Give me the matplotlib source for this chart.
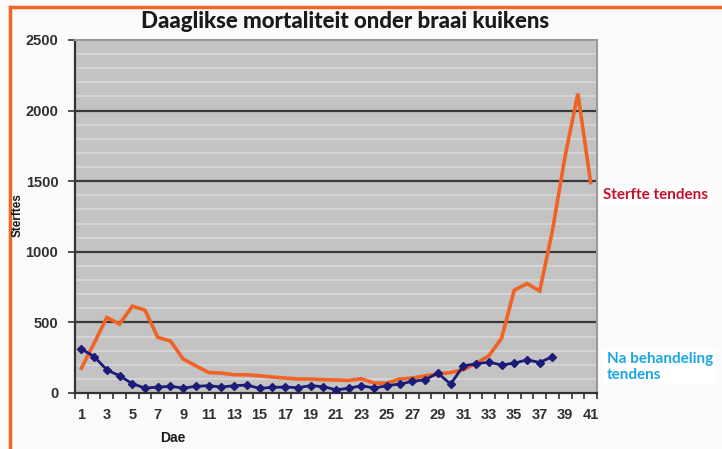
import matplotlib
matplotlib.use("Agg")
import matplotlib.pyplot as plt
from matplotlib.lines import Line2D
import numpy as np

days = list(range(1, 42))
sterfte = [176, 352, 535, 488, 615, 587, 394, 368, 240, 192,
           145, 141, 129, 129, 122, 113, 106, 99, 99, 94,
           92, 89, 101, 70, 70, 99, 106, 122, 134, 145,
           164, 211, 263, 387, 728, 775, 723, 1150, 1680, 2120,
           1490]
behandeling_days = list(range(1, 39))
behandeling = [312, 258, 164, 122, 66, 35, 42, 47, 35, 47,
               52, 42, 52, 56, 33, 40, 42, 38, 52, 45,
               23, 33, 52, 35, 52, 63, 82, 94, 141, 63,
               192, 207, 218, 199, 211, 235, 216, 258]
x_ticklabels = [str(d) for d in range(1, 42, 2)]
y_ticks = [0, 500, 1000, 1500, 2000, 2500]

title = "Daaglikse mortaliteit onder braai kuikens"
xlabel = "Dae"
ylabel = "Sterftes"
label_sterfte = "Sterfte tendens"
label_behandeling = "Na behandeling\ntendens"

fig = plt.figure(figsize=(7.22, 4.49), dpi=100, facecolor="#fbfbfb")
ax = fig.add_axes([75/722, 1-393/449, (597-75)/722, (393-40)/449])
ax.set_facecolor("#c3c3c3")

# gridlines
for v in range(100, 2500, 100):
    if v % 500:
        ax.axhline(v, color="#d8d8d8", lw=1.2, zorder=1)
for v in y_ticks[1:-1]:
    ax.axhline(v, color="#3a3a3a", lw=1.6, zorder=1.5)

ax.plot(days, sterfte, color="#f06325", lw=2.6, zorder=3, solid_joinstyle="miter")
ax.plot(behandeling_days, behandeling, color="#1c1c78", lw=2.0, marker="D",
        markersize=4.5, zorder=4)

ax.set_xlim(0.5, 41.5)
ax.set_ylim(0, 2500)
ax.set_yticks(y_ticks)
ax.set_yticklabels([str(v) for v in y_ticks])
ax.set_xticks(range(1, 42, 2))
ax.set_xticklabels(x_ticklabels)
ax.set_xticks(np.arange(0.5, 42, 1), minor=True)
ax.tick_params(axis="x", which="major", length=0, pad=11)
ax.tick_params(axis="x", which="minor", length=4, width=1.2, color="#333333", direction="out")
ax.tick_params(axis="y", length=5, width=1.2, color="#333333", pad=7)
for lab in ax.get_xticklabels() + ax.get_yticklabels():
    lab.set_fontfamily("Liberation Sans")
    lab.set_fontweight("bold")
    lab.set_fontsize(10.5)
    lab.set_color("#303030")

for side in ["left", "bottom"]:
    ax.spines[side].set_color("#333333")
    ax.spines[side].set_linewidth(1.6)
for side in ["right", "top"]:
    ax.spines[side].set_color("#9a9a9a")
    ax.spines[side].set_linewidth(1.5)

fig.text(345/722, 1-22/449, title, ha="center", va="center",
         fontsize=16, fontweight="black", family="Lato", color="#1a1a1a")
fig.text(18/722, 1-215/449, ylabel, ha="center", va="center", rotation=90,
         fontsize=8.5, fontweight="bold", family="Liberation Sans", color="#1a1a1a")
fig.text(173/722, 1-438/449, xlabel, ha="center", va="center",
         fontsize=10, fontweight="bold", family="Liberation Sans", color="#1a1a1a")

fig.text(603/722, 1-195/449, label_sterfte, ha="left", va="center",
         fontsize=11, fontweight="bold", family="Lato", color="#c8102e",
         bbox=dict(facecolor="white", edgecolor="none", pad=2))
fig.text(607/722, 1-367/449, label_behandeling, ha="left", va="center",
         fontsize=11, fontweight="bold", family="Lato", color="#1aa7e3",
         linespacing=1.25,
         bbox=dict(facecolor="white", edgecolor="none", pad=2))

# orange frame (top and left)
fig.add_artist(Line2D([10/722, 1.0], [1-7/449, 1-7/449], color="#f26522", lw=2.5,
                      transform=fig.transFigure))
fig.add_artist(Line2D([10/722, 10/722], [0, 1-7/449], color="#f26522", lw=2.5,
                      transform=fig.transFigure))

fig.savefig("out.png", dpi=100, facecolor=fig.get_facecolor())
